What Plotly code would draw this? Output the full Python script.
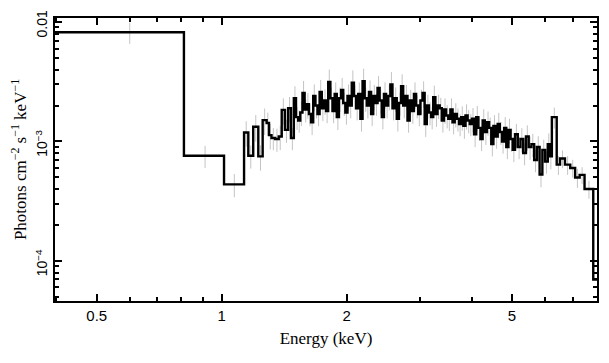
import plotly.graph_objects as go

# Bin edges (keV); last value is the upper edge of the last bin
edges = [0.39, 0.811, 1.013, 1.132, 1.159, 1.191, 1.225, 1.255, 1.283, 1.300,
         1.318, 1.345, 1.372, 1.395, 1.420, 1.445, 1.468, 1.492, 1.510, 1.528,
         1.546, 1.565, 1.584, 1.603, 1.622, 1.641, 1.661, 1.681, 1.701, 1.721,
         1.742, 1.763, 1.784, 1.805, 1.827, 1.849, 1.871, 1.893, 1.916, 1.939,
         1.962, 1.985, 2.009, 2.033, 2.057, 2.082, 2.107, 2.132, 2.158, 2.184,
         2.210, 2.236, 2.263, 2.290, 2.317, 2.345, 2.373, 2.401, 2.430, 2.459,
         2.488, 2.518, 2.548, 2.578, 2.609, 2.640, 2.672, 2.704, 2.736, 2.769,
         2.802, 2.836, 2.870, 2.904, 2.939, 2.974, 3.010, 3.046, 3.082, 3.119,
         3.156, 3.194, 3.232, 3.271, 3.310, 3.350, 3.390, 3.430, 3.471, 3.513,
         3.555, 3.598, 3.641, 3.685, 3.729, 3.774, 3.819, 3.865, 3.911, 3.958,
         4.005, 4.053, 4.102, 4.151, 4.201, 4.251, 4.302, 4.354, 4.406, 4.459,
         4.512, 4.566, 4.621, 4.676, 4.732, 4.789, 4.846, 4.904, 4.963, 5.022,
         5.087, 5.165, 5.243, 5.323, 5.405, 5.488, 5.572, 5.657, 5.743, 5.830,
         5.920, 6.010, 6.100, 6.170, 6.240, 6.410, 6.530, 6.710, 6.910, 7.100,
         7.280, 7.480, 7.850, 8.300]

# Flux per bin, in units of 1e-3 photons cm^-2 s^-1 keV^-1
flux_1e3 = [8.2, 0.76, 0.438, 1.19, 0.76, 1.33, 0.75, 1.51, 1.43, 1.13,
            1.07, 1.05, 1.10, 1.84, 1.25, 1.90, 1.07, 2.30, 1.60, 1.50,
            1.75, 2.55, 1.85, 2.05, 1.70, 1.45, 2.40, 2.00, 1.70, 2.60,
            1.90, 2.20, 1.80, 3.15, 2.30, 1.80, 2.50, 1.60, 2.30, 2.70,
            2.10, 1.75, 2.40, 2.00, 3.10, 2.40, 1.90, 2.50, 1.55, 3.20,
            2.30, 2.00, 2.60, 1.70, 2.40, 2.10, 2.80, 2.20, 1.60, 2.50,
            2.00, 2.40, 3.00, 1.90, 2.30, 1.55, 2.10, 2.90, 2.00, 2.40,
            1.50, 2.20, 1.80, 2.50, 2.00, 1.70, 2.20, 2.55, 1.40, 2.00,
            1.75, 1.60, 2.35, 1.70, 2.00, 1.90, 1.50, 1.85, 1.65, 1.55,
            1.85, 1.45, 1.70, 1.55, 1.40, 1.60, 1.35, 1.65, 1.50, 1.40,
            1.55, 1.15, 1.60, 1.30, 1.05, 1.50, 1.20, 1.45, 1.30, 0.95,
            1.35, 1.10, 1.40, 1.20, 1.00, 1.30, 0.90, 1.25, 1.05, 0.85,
            1.15, 0.90, 1.05, 0.80, 1.10, 0.90, 0.95, 0.70, 0.90, 0.53,
            0.85, 0.68, 0.95, 0.75, 1.60, 0.64, 0.72, 0.64, 0.60, 0.50,
            0.525, 0.40, 0.070]

# Relative 1-sigma errors per bin
rel_err = [0.20, 0.21, 0.22, 0.24, 0.22, 0.25, 0.24, 0.25, 0.22, 0.24,
           0.21, 0.22, 0.23, 0.25, 0.22, 0.24, 0.21, 0.26, 0.22, 0.21,
           0.23, 0.26, 0.22, 0.24, 0.21, 0.22, 0.25, 0.22, 0.21, 0.26,
           0.22, 0.24, 0.21, 0.27, 0.23, 0.21, 0.25, 0.22, 0.23, 0.26,
           0.22, 0.21, 0.25, 0.22, 0.27, 0.23, 0.21, 0.25, 0.22, 0.27,
           0.23, 0.22, 0.25, 0.21, 0.24, 0.22, 0.26, 0.23, 0.21, 0.25,
           0.22, 0.24, 0.27, 0.21, 0.23, 0.22, 0.22, 0.26, 0.22, 0.24,
           0.21, 0.23, 0.22, 0.25, 0.22, 0.21, 0.23, 0.25, 0.22, 0.23,
           0.22, 0.21, 0.25, 0.22, 0.23, 0.22, 0.21, 0.24, 0.22, 0.21,
           0.24, 0.21, 0.23, 0.22, 0.21, 0.23, 0.22, 0.24, 0.22, 0.21,
           0.23, 0.22, 0.24, 0.22, 0.21, 0.24, 0.22, 0.23, 0.22, 0.21,
           0.23, 0.21, 0.24, 0.22, 0.21, 0.23, 0.21, 0.24, 0.22, 0.21,
           0.22, 0.21, 0.23, 0.21, 0.24, 0.22, 0.22, 0.21, 0.23, 0.22,
           0.22, 0.21, 0.23, 0.22, 0.20, 0.18, 0.17, 0.18, 0.17, 0.18,
           0.16, 0.17, 0.30]

assert len(edges) == len(flux_1e3) + 1 == len(rel_err) + 1

x_major = [0.5, 1, 2, 5]
x_major_text = ["0.5", "1", "2", "5"]
x_minor = [0.4, 0.6, 0.7, 0.8, 0.9, 3, 4, 6, 7, 8]
y_major = [1e-4, 1e-3, 1e-2]
y_major_text = ["10<sup>\u22124</sup>", "10<sup>\u22123</sup>", "0.01"]
y_minor = [5e-5, 6e-5, 7e-5, 8e-5, 9e-5,
           2e-4, 3e-4, 4e-4, 5e-4, 6e-4, 7e-4, 8e-4, 9e-4,
           2e-3, 3e-3, 4e-3, 5e-3, 6e-3, 7e-3, 8e-3, 9e-3]

flux = [v * 1e-3 for v in flux_1e3]
centers = [(a + b) / 2 for a, b in zip(edges[:-1], edges[1:])]
errs = [f * r for f, r in zip(flux, rel_err)]

fig = go.Figure()
fig.add_trace(go.Scatter(
    x=centers, y=flux, mode="markers",
    marker=dict(size=1, color="rgba(0,0,0,0)"),
    error_y=dict(type="data", array=errs, color="#c4c4c4", thickness=1, width=0),
    hoverinfo="skip", showlegend=False))
fig.add_trace(go.Scatter(
    x=edges, y=flux + [flux[-1]], mode="lines",
    line=dict(shape="hv", color="black", width=2.4),
    showlegend=False))

xtickfont = dict(family="Liberation Sans, Arial, sans-serif", size=15, color="black")
ytickfont = dict(family="Liberation Sans, Arial, sans-serif", size=14, color="black")
titlefont = dict(family="Liberation Serif, Times New Roman, serif", size=17, color="black")

# The page body adds an 8 px offset, so the figure is 8 px smaller than the window
fig.update_layout(
    width=601, height=355,
    margin=dict(l=47, r=12, t=10, b=62),
    paper_bgcolor="white", plot_bgcolor="white",
    xaxis=dict(
        type="log", range=[-0.4015, 0.9039], automargin=False,
        tickmode="array", tickvals=x_major, ticktext=x_major_text,
        ticks="inside", ticklen=7, tickwidth=2, tickcolor="black",
        minor=dict(tickmode="array", tickvals=x_minor, ticks="inside",
                   ticklen=4, tickwidth=2, tickcolor="black", showgrid=False),
        showline=True, linecolor="black", linewidth=2, mirror="ticks",
        showgrid=False, zeroline=False, tickfont=xtickfont,
        title=dict(text="Energy (keV)", font=titlefont, standoff=9),
    ),
    yaxis=dict(
        type="log", range=[-4.335, -1.9665], automargin=False,
        tickmode="array", tickvals=y_major, ticktext=y_major_text,
        ticks="inside", ticklen=7, tickwidth=2, tickcolor="black",
        minor=dict(tickmode="array", tickvals=y_minor, ticks="inside",
                   ticklen=4, tickwidth=2, tickcolor="black", showgrid=False),
        showline=True, linecolor="black", linewidth=2, mirror="ticks",
        showgrid=False, zeroline=False, tickfont=ytickfont, tickangle=-90,
        ticklabeloverflow="allow", ticklabelshift=4,
        title=dict(text="Photons cm<sup>\u22122</sup> s<sup>\u22121</sup> keV<sup>\u22121</sup>",
                   font=titlefont, standoff=3),
    ),
)

fig.write_html("out.html")
